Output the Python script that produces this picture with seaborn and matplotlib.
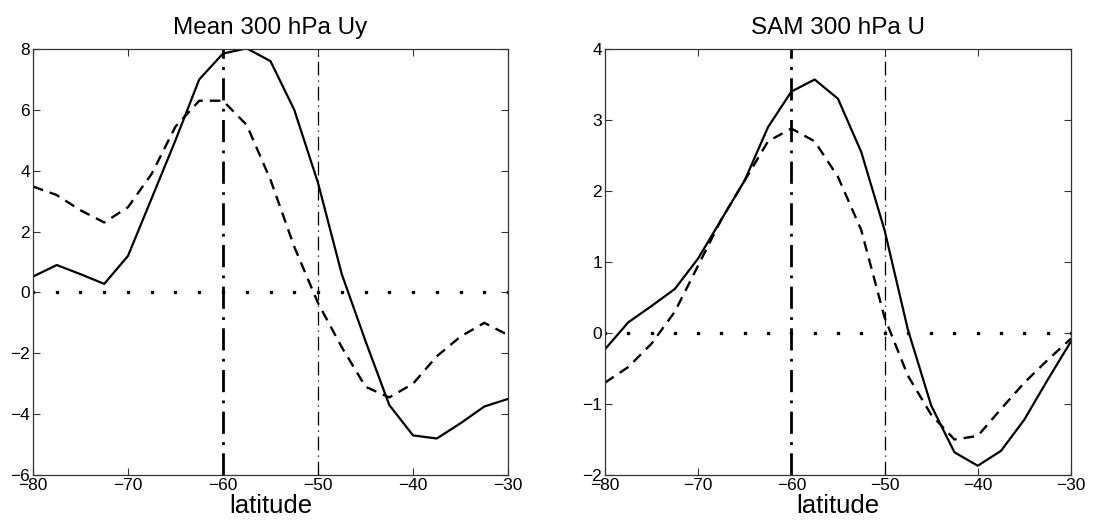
import numpy as np
import pandas as pd
import seaborn as sns
import matplotlib.pyplot as plt

# latitudes of the curves (2.5 degree grid)
lat = [-80, -77.5, -75, -72.5, -70, -67.5, -65, -62.5, -60, -57.5, -55,
       -52.5, -50, -47.5, -45, -42.5, -40, -37.5, -35, -32.5, -30]

# Mean 300 hPa Uy
uy_solid = [0.52, 0.9, 0.6, 0.28, 1.2, 3.1, 5.0, 7.0, 7.85, 8.02, 7.6,
            6.0, 3.6, 0.6, -1.6, -3.7, -4.7, -4.8, -4.3, -3.75, -3.5]
uy_dash = [3.48, 3.2, 2.7, 2.3, 2.8, 3.9, 5.45, 6.3, 6.3, 5.5, 3.7,
           1.5, -0.35, -1.8, -3.1, -3.45, -3.0, -2.1, -1.45, -1.0, -1.4]

# SAM 300 hPa U
sam_solid = [-0.23, 0.15, 0.38, 0.62, 1.05, 1.6, 2.15, 2.9, 3.4, 3.57, 3.3,
             2.55, 1.45, 0.05, -1.02, -1.68, -1.87, -1.66, -1.22, -0.66, -0.12]
sam_dash = [-0.7, -0.48, -0.15, 0.3, 0.95, 1.6, 2.15, 2.7, 2.88, 2.7, 2.2,
            1.45, 0.22, -0.6, -1.15, -1.5, -1.45, -1.07, -0.7, -0.38, -0.08]

titles = ['Mean 300 hPa Uy', 'SAM 300 hPa U']
yticks = [[-6, -4, -2, 0, 2, 4, 6, 8], [-2, -1, 0, 1, 2, 3, 4]]
xticks = [-80, -70, -60, -50, -40, -30]

sns.set_theme(style='ticks')
plt.rcParams['font.family'] = ['Liberation Sans', 'DejaVu Sans']
plt.rcParams['xtick.direction'] = 'in'
plt.rcParams['ytick.direction'] = 'in'
plt.rcParams['xtick.top'] = True
plt.rcParams['ytick.right'] = True

fig = plt.figure(figsize=(11.1, 5.29), dpi=100)
ax1 = fig.add_axes([0.0297, 0.1021, 0.428, 0.8053])
ax2 = fig.add_axes([0.545, 0.1021, 0.4198, 0.8053])

series = [(uy_solid, uy_dash), (sam_solid, sam_dash)]
for ax, (sol, das), title, yt in zip([ax1, ax2], series, titles, yticks):
    df = pd.DataFrame({'lat': lat, 'solid': sol, 'dash': das, 'zero': np.zeros(len(lat))})
    sns.lineplot(data=df, x='lat', y='solid', ax=ax, color='black', lw=1.6)
    sns.lineplot(data=df, x='lat', y='dash', ax=ax, color='black', lw=1.7,
                 linestyle=(0, (4.5, 3)))
    ax.plot(df['lat'], df['zero'], linestyle='none', marker='s', ms=1.6,
            color='black')
    ax.axvline(-60, color='black', lw=2.0, linestyle=(0, (8, 3, 1, 3)))
    ax.axvline(-50, color='black', lw=0.9, linestyle=(0, (11, 4, 1, 4)))
    ax.set_xlim(-80, -30)
    ax.set_ylim(yt[0], yt[-1])
    ax.set_xticks(xticks)
    ax.set_yticks(yt)
    ax.set_title(title, fontsize=17.5, pad=11, color='black')
    ax.set_xlabel('latitude', fontsize=18.5, labelpad=1, color='black')
    ax.set_ylabel('')
    ax.tick_params(labelsize=12.5, length=5, width=0.8, pad=2,
                   colors='#333333', labelcolor='black')
    for s in ax.spines.values():
        s.set_linewidth(0.9)
        s.set_color('#333333')

fig.savefig('out.png', dpi=100)
